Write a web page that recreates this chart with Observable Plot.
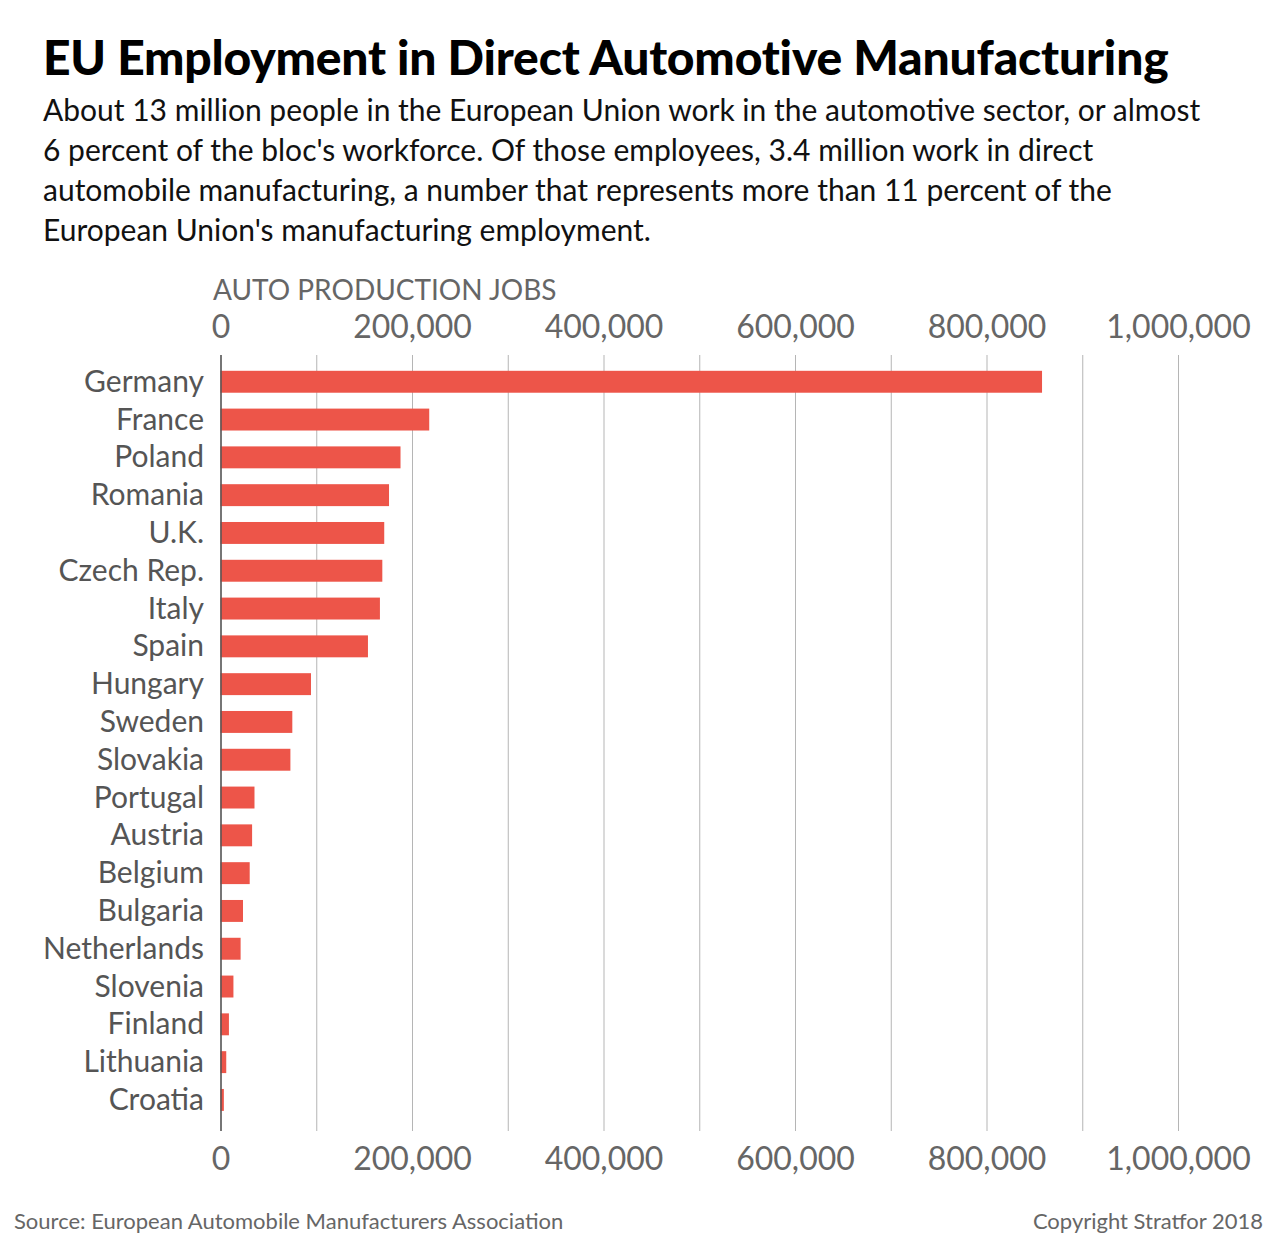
<!DOCTYPE html>
<html>
<head>
<meta charset="utf-8">
<script src="https://cdn.jsdelivr.net/npm/d3@7"></script>
<script src="https://cdn.jsdelivr.net/npm/@observablehq/plot@0.6"></script>
<style>
  html, body { margin: 0; padding: 0; background: #fff; }
  body { width: 1280px; height: 1260px; position: relative; font-family: Lato, "Open Sans", sans-serif; overflow: hidden; }
  #title { position: absolute; left: 43px; top: 33px; font-size: 48px; line-height: 48px; font-weight: 900; color: #000; white-space: nowrap; letter-spacing: -0.2px; }
  #subtitle { position: absolute; left: 43px; top: 89px; font-size: 30px; line-height: 40px; color: #111; white-space: nowrap; }
  #axislabel { position: absolute; left: 213px; top: 272px; font-size: 28px; color: #666; white-space: nowrap; }
  #chart { position: absolute; left: 0; top: 300px; }
  #source { position: absolute; left: 14px; top: 1207px; font-size: 22px; color: #666; white-space: nowrap; }
  #copy { position: absolute; right: 17px; top: 1207px; font-size: 22px; color: #666; white-space: nowrap; }
</style>
</head>
<body>
<div id="title">EU Employment in Direct Automotive Manufacturing</div>
<div id="subtitle">About 13 million people in the European Union work in the automotive sector, or almost<br>6 percent of the bloc's workforce. Of those employees, 3.4 million work in direct<br>automobile manufacturing, a number that represents more than 11 percent of the<br>European Union's manufacturing employment.</div>
<div id="axislabel">AUTO PRODUCTION JOBS</div>
<div id="chart"></div>
<div id="source">Source: European Automobile Manufacturers Association</div>
<div id="copy">Copyright Stratfor 2018</div>
<script>
const countries = ["Germany", "France", "Poland", "Romania", "U.K.", "Czech Rep.", "Italy", "Spain", "Hungary", "Sweden", "Slovakia", "Portugal", "Austria", "Belgium", "Bulgaria", "Netherlands", "Slovenia", "Finland", "Lithuania", "Croatia"];
const jobs = [858000, 218000, 188000, 176000, 171000, 169000, 166500, 154000, 94500, 75000, 73000, 35500, 33000, 30500, 23500, 21000, 13500, 8800, 6000, 3500];
const gridTicks = [0, 100000, 200000, 300000, 400000, 500000, 600000, 700000, 800000, 900000, 1000000];
const labelTicks = [0, 200000, 400000, 600000, 800000, 1000000];

const data = countries.map((c, i) => ({country: c, value: jobs[i]}));
const fmt = d3.format(",");

const chart = Plot.plot({
  width: 1280,
  height: 880,
  marginTop: 55,
  marginBottom: 49,
  marginLeft: 220.5,
  marginRight: 102,
  style: {fontFamily: "Lato, 'Open Sans', sans-serif", background: "transparent"},
  x: {domain: [0, 1000000]},
  y: {domain: countries, paddingInner: 0.42, paddingOuter: 0.475, align: 0.44, round: false},
  marks: [
    Plot.gridX(gridTicks, {stroke: "#b5b5b5", strokeOpacity: 1, strokeWidth: 1}),
    Plot.barX(data, {y: "country", x: "value", fill: "#ED5549"}),
    Plot.ruleX([0], {stroke: "#555", strokeWidth: 1.5}),
    Plot.axisX(labelTicks, {anchor: "top", tickSize: 0, tickPadding: 18, tickFormat: fmt, fontSize: 32, fill: "#666", label: null}),
    Plot.axisX(labelTicks, {anchor: "bottom", tickSize: 0, tickPadding: 16, tickFormat: fmt, fontSize: 32, fill: "#666", label: null}),
    Plot.axisY({tickSize: 0, tickPadding: 17, fontSize: 30, fill: "#555", label: null})
  ]
});
document.getElementById("chart").appendChild(chart);
</script>
</body>
</html>
